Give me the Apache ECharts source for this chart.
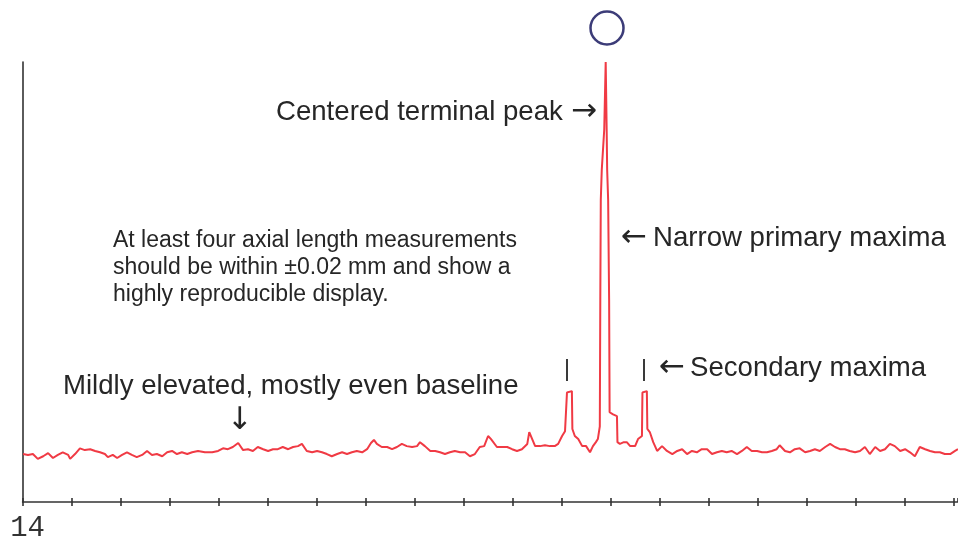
<!DOCTYPE html>
<html>
<head>
<meta charset="utf-8">
<script src="https://cdn.jsdelivr.net/npm/echarts@6/dist/echarts.min.js"></script>
<style>
  html, body { margin: 0; padding: 0; background: #ffffff; }
  #chart { width: 958px; height: 543px; }
</style>
</head>
<body>
<div id="chart"></div>
<script>
// A-scan trace: positions along the axis (tick units) and echo amplitude (% of display height)
const traceX = [
  14.01, 14.11, 14.21, 14.31, 14.42, 14.52, 14.62, 14.72, 14.82, 14.93, 14.97, 15.07, 15.17, 15.27, 15.38, 15.48,
  15.58, 15.68, 15.74, 15.84, 15.93, 16.03, 16.13, 16.23, 16.33, 16.44, 16.54, 16.64, 16.74, 16.85, 16.95, 17.05,
  17.15, 17.25, 17.36, 17.46, 17.58, 17.72, 17.87, 17.99, 18.09, 18.19, 18.29, 18.40, 18.50, 18.60, 18.70, 18.80,
  18.91, 19.01, 19.11, 19.21, 19.31, 19.42, 19.52, 19.62, 19.70, 19.80, 19.91, 20.01, 20.11, 20.21, 20.31, 20.42,
  20.52, 20.62, 20.72, 20.82, 20.93, 21.03, 21.11, 21.17, 21.23, 21.33, 21.44, 21.54, 21.64, 21.74, 21.84, 21.95,
  22.05, 22.11, 22.21, 22.32, 22.42, 22.52, 22.62, 22.72, 22.82, 22.93, 23.03, 23.13, 23.23, 23.33, 23.42, 23.50,
  23.56, 23.68, 23.79, 23.89, 23.99, 24.09, 24.19, 24.30, 24.34, 24.40, 24.46, 24.56, 24.66, 24.76, 24.86, 24.93,
  25.01, 25.07, 25.11, 25.21, 25.22, 25.27, 25.34, 25.42, 25.50, 25.58, 25.64, 25.70, 25.74, 25.78, 25.79, 25.80,
  25.82, 25.87, 25.90, 25.92, 25.93, 25.95, 25.97, 25.98, 26.05, 26.13, 26.14, 26.19, 26.27, 26.33, 26.40, 26.50,
  26.56, 26.64, 26.65, 26.74, 26.75, 26.80, 26.87, 26.95, 27.05, 27.15, 27.26, 27.36, 27.46, 27.56, 27.66, 27.76,
  27.86, 27.97, 28.07, 28.17, 28.27, 28.37, 28.47, 28.58, 28.68, 28.78, 28.88, 28.99, 29.09, 29.19, 29.29, 29.39,
  29.45, 29.56, 29.66, 29.76, 29.86, 29.97, 30.07, 30.17, 30.27, 30.38, 30.48, 30.58, 30.68, 30.78, 30.88, 30.99,
  31.09, 31.19, 31.29, 31.40, 31.50, 31.60, 31.70, 31.80, 31.91, 32.01, 32.11, 32.21, 32.31, 32.42, 32.52, 32.62,
  32.72, 32.82, 32.93, 33.03, 33.09
];
const traceY = [
  10.9, 10.7, 10.9, 9.8, 10.4, 11.1, 10.0, 10.7, 11.3, 10.7, 9.8, 10.9, 12.2, 11.8, 12.0, 11.6,
  11.3, 10.9, 10.2, 10.7, 10.0, 10.7, 11.3, 10.7, 10.2, 10.7, 11.6, 10.7, 10.9, 10.4, 11.3, 11.6,
  10.9, 11.3, 10.9, 11.3, 11.6, 11.3, 11.3, 11.6, 12.2, 12.0, 12.5, 13.4, 11.8, 12.0, 11.6, 12.5,
  12.0, 11.6, 12.0, 12.0, 12.5, 12.0, 12.5, 12.7, 13.2, 11.6, 11.3, 11.6, 11.3, 10.9, 10.4, 10.9,
  11.3, 10.9, 11.3, 11.6, 11.3, 12.0, 13.4, 14.1, 13.2, 12.5, 12.5, 12.0, 12.5, 13.2, 12.7, 12.5,
  12.7, 13.6, 12.7, 11.6, 11.6, 11.3, 10.9, 11.3, 11.6, 11.3, 11.3, 10.4, 10.9, 12.5, 12.7, 15.0,
  14.3, 12.5, 12.5, 12.5, 12.0, 11.6, 12.0, 13.2, 15.9, 14.3, 12.7, 12.7, 12.9, 12.7, 12.7, 13.2,
  15.0, 16.1, 24.9, 25.2, 16.6, 15.0, 14.3, 12.7, 12.7, 11.3, 12.7, 13.6, 14.3, 17.2, 46.0, 68.7,
  75.5, 84.6, 100.0, 84.6, 75.5, 68.7, 46.0, 20.4, 19.9, 19.5, 13.6, 13.2, 13.6, 13.6, 12.7, 12.7,
  14.3, 15.0, 24.9, 25.2, 16.6, 15.9, 13.6, 11.6, 12.7, 11.6, 10.9, 11.6, 12.0, 10.9, 11.6, 11.3,
  12.0, 12.0, 10.9, 11.3, 11.6, 11.3, 11.6, 10.9, 11.6, 12.5, 11.6, 11.6, 11.3, 11.3, 11.6, 12.0,
  12.9, 11.6, 11.3, 12.0, 12.2, 11.3, 11.6, 12.0, 11.6, 12.5, 13.2, 12.5, 12.0, 12.0, 11.6, 11.3,
  11.6, 12.5, 10.9, 12.5, 11.6, 12.0, 13.2, 12.7, 11.6, 12.0, 11.3, 10.4, 12.5, 12.0, 11.6, 11.3,
  11.3, 10.9, 10.9, 11.6, 12.0
];
const axisMin = 14;
const axisMax = 33.09;
const tickStep = 1;
const tickLabels = { 14: '14' };

const traceData = traceX.map((x, i) => [x, traceY[i]]);

const chart = echarts.init(document.getElementById('chart'), null, { renderer: 'canvas' });
const textFont = '"Liberation Sans", Arial, "DejaVu Sans", sans-serif';
const arrowFont = '31px "DejaVu Sans", sans-serif';
const ink = '#262626';
const bigFont = '27.6px ' + textFont;

chart.setOption({
  animation: false,
  backgroundColor: '#ffffff',
  grid: { left: 22.6, right: 0, top: 62, bottom: 40, containLabel: false },
  xAxis: [
    {
      type: 'value', min: axisMin, max: axisMax, interval: tickStep,
      axisLine: { show: true, onZero: false, lineStyle: { color: '#333', width: 1.6 } },
      axisTick: { show: true, inside: false, length: 4, lineStyle: { color: '#333', width: 1.6 } },
      splitLine: { show: false },
      axisLabel: {
        show: true, showMinLabel: true, showMaxLabel: false, margin: 12,
        formatter: v => tickLabels[v] || '',
        fontFamily: '"Liberation Mono", "DejaVu Sans Mono", monospace',
        fontSize: 29, color: '#333', align: 'center', padding: [0, 0, 0, 10]
      }
    },
    {
      type: 'value', min: axisMin, max: axisMax, interval: tickStep, position: 'bottom',
      axisLine: { show: false, onZero: false },
      axisTick: { show: true, inside: true, length: 4, lineStyle: { color: '#333', width: 1.6 } },
      splitLine: { show: false },
      axisLabel: { show: false }
    }
  ],
  yAxis: {
    type: 'value', min: 0, max: 100,
    axisLine: { show: true, onZero: false, lineStyle: { color: '#333', width: 1.6 } },
    axisTick: { show: false },
    axisLabel: { show: false },
    splitLine: { show: false }
  },
  series: [{
    type: 'line',
    data: traceData,
    showSymbol: false,
    symbol: 'none',
    smooth: false,
    lineStyle: { color: '#f03a44', width: 2 }
  }],
  graphic: [
    { type: 'circle', shape: { cx: 607, cy: 28, r: 16.5 }, style: { fill: 'none', stroke: '#3c3c78', lineWidth: 2.5 } },
    { type: 'text', style: { x: 276, y: 112, text: 'Centered terminal peak', font: bigFont, fill: ink, verticalAlign: 'middle', align: 'left' } },
    { type: 'text', style: { x: 571, y: 112, text: '\u2192', font: arrowFont, fill: ink, verticalAlign: 'middle', align: 'left' } },
    { type: 'text', style: { x: 621, y: 238, text: '\u2190', font: arrowFont, fill: ink, verticalAlign: 'middle', align: 'left' } },
    { type: 'text', style: { x: 653, y: 238, text: 'Narrow primary maxima', font: bigFont, fill: ink, verticalAlign: 'middle', align: 'left' } },
    { type: 'text', style: { x: 113, y: 268, text: 'At least four axial length measurements\nshould be within \u00b10.02 mm and show a\nhighly reproducible display.', font: '23px ' + textFont, lineHeight: 27, fill: ink, verticalAlign: 'middle', align: 'left' } },
    { type: 'text', style: { x: 659, y: 368, text: '\u2190', font: arrowFont, fill: ink, verticalAlign: 'middle', align: 'left' } },
    { type: 'text', style: { x: 690, y: 368, text: 'Secondary maxima', font: bigFont, fill: ink, verticalAlign: 'middle', align: 'left' } },
    { type: 'text', style: { x: 63, y: 386, text: 'Mildly elevated, mostly even baseline', font: bigFont, fill: ink, verticalAlign: 'middle', align: 'left' } },
    { type: 'text', style: { x: 240, y: 421, text: '\u2193', font: arrowFont, fill: ink, verticalAlign: 'middle', align: 'center' } },
    { type: 'rect', shape: { x: 566, y: 359, width: 2, height: 22 }, style: { fill: '#3a3a3a' } },
    { type: 'rect', shape: { x: 643, y: 359, width: 2, height: 22 }, style: { fill: '#3a3a3a' } }
  ]
});
</script>
</body>
</html>
